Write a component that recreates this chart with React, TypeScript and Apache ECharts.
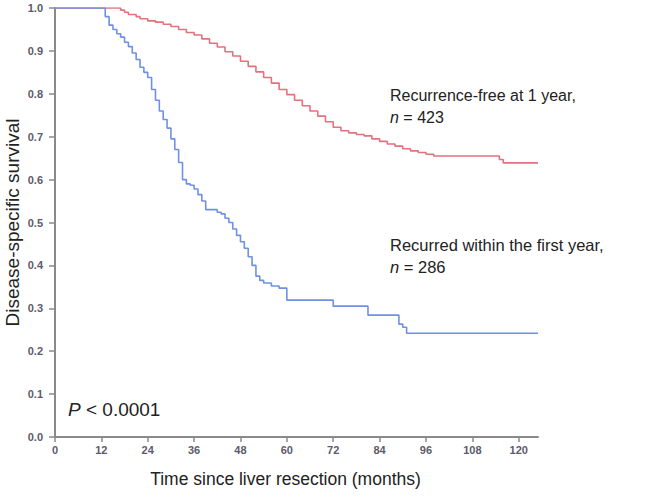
import React, { useEffect, useRef } from "react";
import * as echarts from "echarts";

const xTicks = [0, 12, 24, 36, 48, 60, 72, 84, 96, 108, 120];

// Recurrence-free at 1 year (n = 423): [month, survival]
const recurrenceFree: [number, number][] = [
  [0, 1.0], [16, 1.0], [17, 0.995], [18, 0.99], [19, 0.985], [21, 0.98], [22, 0.975],
  [24, 0.97], [26, 0.967], [28, 0.962], [30, 0.957], [32, 0.95], [34, 0.943], [36, 0.937],
  [38, 0.928], [40, 0.918], [42, 0.909], [44, 0.898], [46, 0.888], [48, 0.876], [50, 0.864],
  [52, 0.851], [54, 0.838], [56, 0.825], [58, 0.81], [60, 0.798], [62, 0.785], [64, 0.772],
  [66, 0.76], [68, 0.748], [70, 0.735], [72, 0.722], [74, 0.714], [76, 0.709], [78, 0.705],
  [80, 0.702], [82, 0.695], [84, 0.689], [86, 0.683], [88, 0.678], [90, 0.672], [92, 0.667],
  [94, 0.663], [96, 0.659], [98, 0.655], [114, 0.655], [115, 0.647], [116, 0.639], [125, 0.639],
];

// Recurred within the first year (n = 286): [month, survival]
const recurredEarly: [number, number][] = [
  [0, 1.0], [12, 1.0], [13, 0.98], [14, 0.96], [15, 0.95], [16, 0.94], [17, 0.932],
  [18, 0.92], [19, 0.91], [20, 0.895], [21, 0.88], [22, 0.862], [23, 0.85], [24, 0.838],
  [25, 0.81], [26, 0.785], [27, 0.76], [28, 0.74], [29, 0.72], [30, 0.695], [31, 0.67],
  [32, 0.64], [33, 0.6], [34, 0.59], [35, 0.587], [36, 0.578], [37, 0.565], [38, 0.55],
  [39, 0.53], [41, 0.53], [42, 0.524], [43, 0.52], [44, 0.51], [45, 0.5], [46, 0.485],
  [47, 0.47], [48, 0.455], [49, 0.44], [50, 0.42], [51, 0.4], [52, 0.375], [53, 0.365],
  [54, 0.359], [56, 0.352], [58, 0.347], [60, 0.319], [72, 0.305], [81, 0.284], [89, 0.263],
  [90, 0.256], [91, 0.242], [125, 0.242],
];

const FONT = "Liberation Sans, Arial, sans-serif";

export default function App() {
  const ref = useRef<HTMLDivElement>(null);
  useEffect(() => {
    document.body.style.margin = "0";
    const chart = echarts.init(ref.current!, null, { renderer: "svg" });
    const axisLine = { lineStyle: { color: "#8a8a8a", width: 2 } };
    const tickLabel = {
      fontFamily: FONT,
      fontSize: 11,
      fontWeight: "bold",
      color: "#5c5a6c",
    };
    chart.setOption({
      animation: false,
      backgroundColor: "#ffffff",
      grid: { left: 55, right: 132, top: 8, bottom: 61, containLabel: false, outerBoundsMode: "none" },
      xAxis: {
        type: "value",
        min: 0,
        max: 125,
        name: "Time since liver resection (months)",
        nameLocation: "middle",
        nameGap: 33,
        nameMoveOverlap: false,
        nameTextStyle: { fontFamily: FONT, fontSize: 17.5, color: "#222", padding: [0, 22, 0, 0] },
        axisLine,
        axisTick: { show: true, length: 5, lineStyle: { color: "#8a8a8a", width: 1.5 }, customValues: xTicks },
        axisLabel: { customValues: xTicks, margin: 7, ...tickLabel },
        splitLine: { show: false },
      },
      yAxis: {
        type: "value",
        min: 0,
        max: 1,
        interval: 0.1,
        name: "Disease-specific survival",
        nameLocation: "middle",
        nameGap: 33,
        nameMoveOverlap: false,
        nameTextStyle: { fontFamily: FONT, fontSize: 19, color: "#222" },
        axisLine: { show: true, ...axisLine },
        axisTick: { show: true, length: 6, lineStyle: { color: "#8a8a8a", width: 1.5 } },
        axisLabel: { margin: 12, ...tickLabel, formatter: (v: number) => v.toFixed(1) },
        splitLine: { show: false },
      },
      series: [
        {
          name: "Recurrence-free at 1 year",
          type: "line",
          step: "end",
          data: recurrenceFree,
          showSymbol: false,
          lineStyle: { color: "#e2727e", width: 1.6 },
          z: 2,
        },
        {
          name: "Recurred within the first year",
          type: "line",
          step: "end",
          data: recurredEarly,
          showSymbol: false,
          lineStyle: { color: "#6f90e6", width: 1.6 },
          z: 3,
        },
      ],
      graphic: [
        {
          type: "text",
          left: 390,
          top: 84,
          style: {
            text: "Recurrence-free at 1 year,\n{i|n} = 423",
            fontFamily: FONT,
            fontSize: 16,
            lineHeight: 22,
            fill: "#222",
            rich: { i: { fontStyle: "italic", fontFamily: FONT, fontSize: 16 } },
          },
        },
        {
          type: "text",
          left: 390,
          top: 234,
          style: {
            text: "Recurred within the first year,\n{i|n} = 286",
            fontFamily: FONT,
            fontSize: 16.5,
            lineHeight: 22,
            fill: "#222",
            rich: { i: { fontStyle: "italic", fontFamily: FONT, fontSize: 16.5 } },
          },
        },
        {
          type: "text",
          left: 68,
          top: 400,
          style: {
            text: "{i|P} < 0.0001",
            fontFamily: FONT,
            fontSize: 19,
            fill: "#222",
            rich: { i: { fontStyle: "italic", fontFamily: FONT, fontSize: 19 } },
          },
        },
      ],
    });
    return () => chart.dispose();
  }, []);
  return <div ref={ref} style={{ width: 670, height: 498 }} />;
}
